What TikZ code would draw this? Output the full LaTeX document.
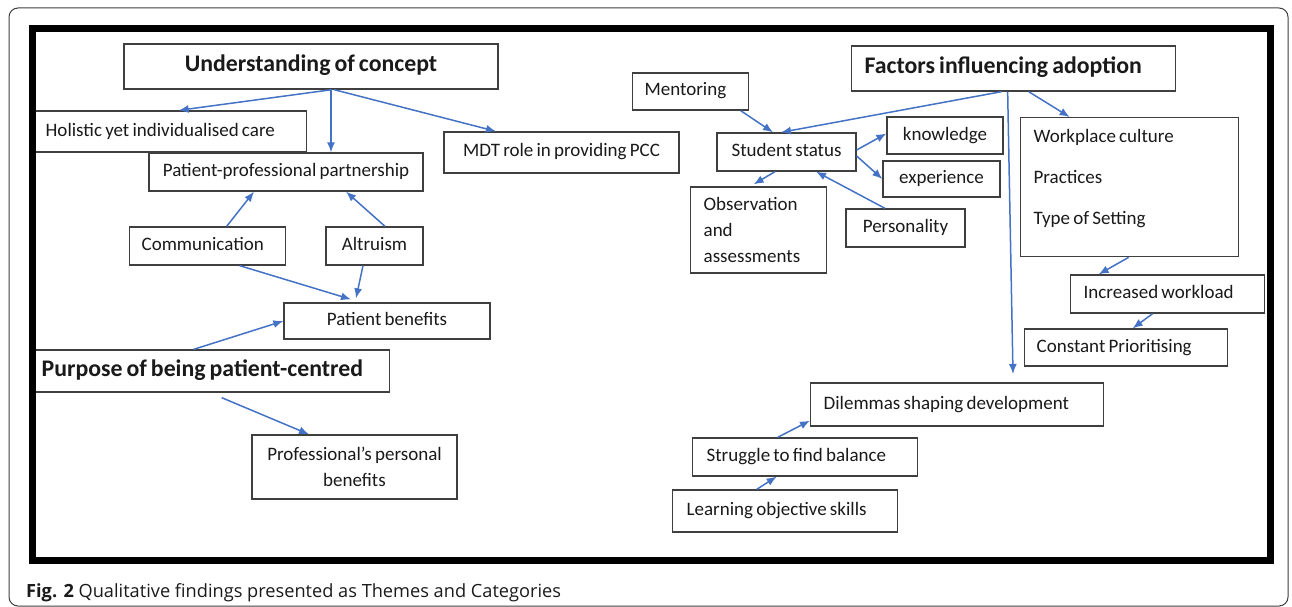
\documentclass[tikz,border=0pt]{standalone}
\usepackage{fontspec}
\setmainfont{Carlito}[WordSpace=0.75]
\newfontfamily\capfont{Open Sans}
\usetikzlibrary{arrows.meta}
\definecolor{arrowblue}{HTML}{4472C4}
\definecolor{boxline}{HTML}{3F3F3F}
\definecolor{txt}{HTML}{1A1A1A}
\newcommand\rgfont{\fontsize{19}{26}\selectfont}
\newcommand\ttlfont{\fontsize{23.8}{28}\selectfont\bfseries}
\begin{document}
\begin{tikzpicture}[x=1pt,y=-1pt,
  boxbase/.style={draw=boxline, line width=1.3pt, fill=white, inner sep=0pt, text=txt, font=\rgfont},
  box/.style={boxbase, text height=13pt, text depth=4pt},
  lbox/.style={box, anchor=west, align=flush left},
  tbox/.style={text height=16pt, text depth=5pt, font=\ttlfont},
  arr/.style={draw=arrowblue, line width=1.5pt, -{Latex[length=10pt,width=8pt]}}]
\useasboundingbox (0,0) rectangle (1292,607);
\draw[boxline, line width=1pt, rounded corners=9pt] (9,8) rectangle (1288,606);

% left part
\node[box, tbox, minimum width=374pt, minimum height=45pt] (uoc) at (311,66.5) {Understanding of concept};
\node[lbox, text width=247pt, inner xsep=14pt, minimum height=41pt] (hol) at (31,131.5) {Holistic yet individualised care};
\node[box, minimum width=274pt, minimum height=38pt] (ppp) at (286,172) {Patient-professional partnership};
\node[box, minimum width=235pt, minimum height=41pt] (mdt) at (561.5,152.5) {MDT role in providing PCC};
\node[lbox, text width=132pt, inner xsep=12pt, minimum height=38pt] (com) at (129,246) {Communication};
\node[box, minimum width=97pt, minimum height=38pt] (alt) at (374.5,246) {Altruism};
\node[box, minimum width=206pt, minimum height=36pt] (pb) at (387,321) {Patient benefits};
\node[lbox, tbox, text width=338pt, inner xsep=10pt, minimum height=42pt] (pur) at (31,371) {Purpose of being patient-centred};
\node[boxbase, align=flush center, text width=205pt, minimum height=64pt] (ppb) at (354.5,467) {Professional’s personal\\benefits};

% right part
\node[lbox, text width=92pt, inner xsep=12pt, minimum height=37pt] (men) at (632,91.5) {Mentoring};
\node[lbox, tbox, text width=298pt, inner xsep=13pt, minimum height=45pt] (fia) at (851,68.5) {Factors influencing adoption};
\node[box, minimum width=139pt, minimum height=38pt] (ss) at (786.5,152) {Student status};
\node[box, minimum width=116pt, minimum height=37pt] (kn) at (945,135.5) {knowledge};
\node[box, minimum width=117pt, minimum height=36pt] (exp) at (941.5,179) {experience};
\node[boxbase, anchor=west, align=flush left, text width=110pt, inner xsep=13pt, minimum height=86pt] (obs) at (690,230) {Observation\\and\\assessments};
\node[box, minimum width=119pt, minimum height=38pt] (per) at (905.5,228) {Personality};
\node[boxbase, anchor=north west, inner xsep=13pt, inner ysep=0pt] (wp) at (1020,117)
  {\parbox[c][139pt][t]{192pt}{\fontsize{19}{41}\selectfont\vspace*{12pt}Workplace culture\\Practices\\Type of Setting}};
\node[lbox, text width=168pt, inner xsep=13pt, minimum height=38pt] (iw) at (1070,294) {Increased workload};
\node[lbox, text width=179pt, inner xsep=12pt, minimum height=37pt] (cp) at (1024,347.5) {Constant Prioritising};
\node[lbox, text width=267pt, inner xsep=13pt, minimum height=43pt] (dsd) at (810,404.5) {Dilemmas shaping development};
\node[lbox, text width=197pt, inner xsep=14pt, minimum height=38pt] (sfb) at (692,457) {Struggle to find balance};
\node[lbox, text width=197pt, inner xsep=14pt, minimum height=42pt] (los) at (672,511) {Learning objective skills};
\coordinate (dsdtip) at (1013,374);

% connectors
\draw[arr] ([xshift=21pt]uoc.south) -- ([xshift=9.5pt]hol.north);
\draw[arr] ([xshift=20pt]uoc.south) -- ([xshift=45pt]ppp.north);
\draw[arr] ([xshift=23pt]uoc.south) -- ([xshift=-65.5pt]mdt.north);
\draw[arr] ([xshift=19pt]com.north) -- ([xshift=-32pt]ppp.south);
\draw[arr] ([xshift=10.5pt]alt.north) -- ([xshift=60pt]ppp.south);
\draw[arr] ([xshift=32pt]com.south) -- ([xshift=-36pt,yshift=3pt]pb.north);
\draw[arr] ([xshift=-11.5pt]alt.south) -- ([xshift=-31pt,yshift=4pt]pb.north);
\draw[arr] ([xshift=-17pt]pur.north) -- (pb.west);
\draw[arr] ([xshift=11pt,yshift=-5pt]pur.south) -- ([xshift=-45.5pt]ppb.north);
\draw[arr] ([xshift=50pt]men.south) -- ([xshift=-13.5pt]ss.north);
\draw[arr] ([xshift=-12pt]fia.south) -- ([xshift=-5.5pt]ss.north);
\draw[arr] ([xshift=15pt]fia.south) -- ([xshift=-60pt]wp.north);
\draw[arr] ([yshift=2pt]ss.east) -- ([yshift=2pt]kn.west);
\draw[arr] ([yshift=-4pt]ss.east) -- (exp.west);
\draw[arr] ([xshift=-11.5pt]ss.south) -- ([xshift=-5pt,yshift=2pt]obs.north);
\draw[arr] ([xshift=-20.5pt]per.north) -- ([xshift=29.5pt]ss.south);
\draw[arr] ([xshift=-1pt]wp.south) -- ([xshift=-69pt]iw.north);
\draw[arr] ([xshift=-15pt]iw.south) -- ([xshift=6.5pt]cp.north);
\draw[arr] ([xshift=-6pt]fia.south) -- (dsdtip);
\draw[arr] ([xshift=-27.5pt]sfb.north) -- ([yshift=6pt]dsd.south west);
\draw[arr] ([xshift=-28.5pt]los.north) -- ([xshift=-28.5pt]sfb.south);

% thick frame
\draw[line width=7pt] (32,28.5) rectangle (1270.5,560);

% caption
\node[anchor=base west, inner sep=0pt, text=txt, font={\capfont\fontsize{18.2}{21}\selectfont}] (cap) at (26,597)
  {\textbf{Fig. 2} Qualitative findings presented as Themes and Categories};
\end{tikzpicture}
\end{document}
